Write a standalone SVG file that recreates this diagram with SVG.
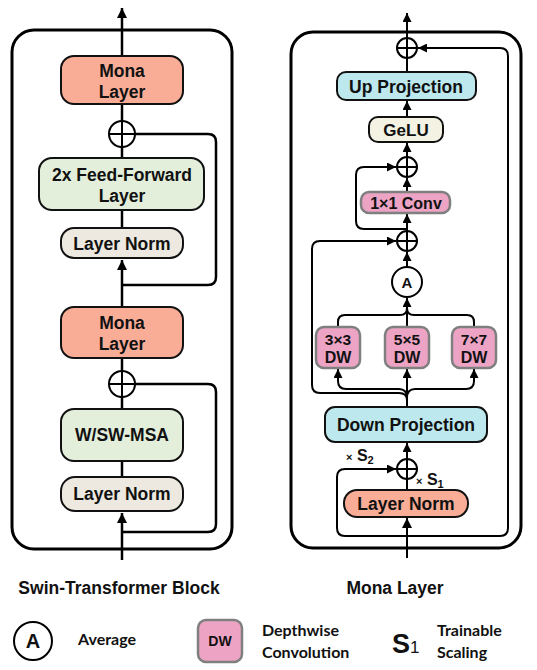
<svg xmlns="http://www.w3.org/2000/svg" width="537" height="670" viewBox="0 0 537 670">
<defs>
<marker id="ah" viewBox="0 0 10 10" refX="10" refY="5" markerWidth="10" markerHeight="10" markerUnits="userSpaceOnUse" orient="auto"><path d="M0,0 L10,5 L0,10 Z" fill="#000"/></marker>
<marker id="ahs" viewBox="0 0 10 10" refX="10" refY="5" markerWidth="9" markerHeight="9" markerUnits="userSpaceOnUse" orient="auto"><path d="M0,0 L10,5 L0,10 Z" fill="#000"/></marker>
</defs>
<style>
text{font-family:"Liberation Sans",Arial,sans-serif;font-weight:bold;fill:#111;text-anchor:middle}
.lg{font-family:Lato,"Open Sans",sans-serif;text-anchor:start;font-size:16px}
.box{stroke:#111;stroke-width:2}
.mona{fill:#f9ad97}
.green{fill:#e3efdb}
.norm{fill:#ede9e0}
.blue{fill:#bde8ee}
.gelu{fill:#f3f2e3}
.pink{fill:#eda4c4;stroke:#7f7f7f;stroke-width:2.5}
.ln{fill:none;stroke:#000;stroke-width:2.5}
.lnr{fill:none;stroke:#000;stroke-width:2}
.outer{fill:none;stroke:#000;stroke-width:3}
.plus{fill:#fff;stroke:#000;stroke-width:2}
</style>

<g id="swin-frame"><rect class="outer" x="12" y="30" width="220" height="519" rx="22"/></g>
<g id="mona-frame"><rect class="outer" x="291" y="32" width="230" height="516" rx="22"/></g>

<g id="connectors">
<!-- left panel -->
<path class="ln" d="M122,560 V513" marker-end="url(#ah)"/>
<path class="ln" d="M122,477 V461"/>
<path class="ln" d="M122,409 V397"/>
<path class="ln" d="M122,371 V358"/>
<path class="ln" d="M122,307 V260" marker-end="url(#ah)"/>
<path class="ln" d="M122,228 V210"/>
<path class="ln" d="M122,158 V147"/>
<path class="ln" d="M122,121 V104"/>
<path class="ln" d="M122,56 V8" marker-end="url(#ah)"/>
<path class="ln" d="M122,532 H208 Q216,532 216,524 V392 Q216,384 208,384 H135"/>
<path class="ln" d="M122,285 H208 Q216,285 216,277 V142 Q216,134 208,134 H135"/>
<!-- right panel -->
<path class="lnr" d="M407,558 V518" marker-end="url(#ah)"/>
<path class="lnr" d="M407,536 H500 Q508,536 508,528 V56 Q508,48 500,48 H418" marker-end="url(#ahs)"/>
<path class="lnr" d="M407,536 H345 Q337,536 337,528 V477 Q337,469 345,469 H396" marker-end="url(#ahs)"/>
<path class="lnr" d="M407,490 V479"/>
<path class="lnr" d="M407,459 V443" marker-end="url(#ahs)"/>
<path class="lnr" d="M407,407 V369" marker-end="url(#ahs)"/>
<path class="lnr" d="M407,398 Q407,389 399,389 H346 Q338,389 338,381 V369" marker-end="url(#ahs)"/>
<path class="lnr" d="M407,398 Q407,389 415,389 H466 Q474,389 474,381 V369" marker-end="url(#ahs)"/>
<path class="lnr" d="M407,400 Q407,393 399,393 H320 Q312,393 312,385 V249 Q312,241 320,241 H396" marker-end="url(#ahs)"/>
<path class="lnr" d="M338,327 V322 Q338,315 345,315 H400 Q407,315 407,308"/>
<path class="lnr" d="M474,327 V322 Q474,315 467,315 H414 Q407,315 407,308"/>
<path class="lnr" d="M407,327 V298" marker-end="url(#ahs)"/>
<path class="lnr" d="M407,267 V252" marker-end="url(#ahs)"/>
<path class="lnr" d="M407,231 V214" marker-end="url(#ahs)"/>
<path class="lnr" d="M407,229 H364 Q356,229 356,221 V175 Q356,167 364,167 H396" marker-end="url(#ahs)"/>
<path class="lnr" d="M407,192 V178" marker-end="url(#ahs)"/>
<path class="lnr" d="M407,157 V143" marker-end="url(#ahs)"/>
<path class="lnr" d="M407,117 V101" marker-end="url(#ahs)"/>
<path class="lnr" d="M407,72 V58"/>
<path class="lnr" d="M407,38 V13" marker-end="url(#ahs)"/>
</g>

<!-- left nodes -->
<g id="mona-top"><rect class="box mona" x="61" y="56" width="122" height="48" rx="13"/><text x="122" y="77" font-size="17.5">Mona</text><text x="122" y="98" font-size="17.5">Layer</text></g>
<g id="add-top"><circle class="plus" cx="122" cy="134" r="13"/><path d="M109,134 H135 M122,121 V147" stroke="#000" stroke-width="2"/></g>
<g id="ffn"><rect class="box green" x="39" y="158" width="165" height="52" rx="13"/><text x="122" y="181" font-size="17.5">2x Feed-Forward</text><text x="122" y="202" font-size="17.5">Layer</text></g>
<g id="norm-top"><rect class="box norm" x="61" y="228" width="122" height="30" rx="13"/><text x="122" y="249.5" font-size="17.5">Layer Norm</text></g>
<g id="mona-bottom"><rect class="box mona" x="61" y="307" width="122" height="51" rx="13"/><text x="122" y="329" font-size="17.5">Mona</text><text x="122" y="350" font-size="17.5">Layer</text></g>
<g id="add-bottom"><circle class="plus" cx="122" cy="384" r="13"/><path d="M109,384 H135 M122,371 V397" stroke="#000" stroke-width="2"/></g>
<g id="msa"><rect class="box green" x="61" y="409" width="122" height="52" rx="13"/><text x="122" y="441" font-size="17.5">W/SW-MSA</text></g>
<g id="norm-bottom"><rect class="box norm" x="61" y="477" width="122" height="34" rx="14"/><text x="122" y="500" font-size="17.5">Layer Norm</text></g>

<!-- right nodes -->
<g id="add-out"><circle class="plus" cx="407" cy="48" r="10"/><path d="M397,48 H417 M407,38 V58" stroke="#000" stroke-width="2"/></g>
<g id="up-proj"><rect class="box blue" x="337" y="72" width="139" height="28" rx="9"/><text x="406" y="92.5" font-size="17.5">Up Projection</text></g>
<g id="gelu"><rect class="box gelu" x="369" y="117" width="74" height="25" rx="9"/><text x="406" y="136" font-size="17">GeLU</text></g>
<g id="add-conv"><circle class="plus" cx="407" cy="167" r="10"/><path d="M397,167 H417 M407,157 V177" stroke="#000" stroke-width="2"/></g>
<g id="conv1x1"><rect class="pink" x="361" y="192" width="89" height="21" rx="8"/><text x="406" y="208.5" font-size="16">1×1 Conv</text></g>
<g id="add-avg"><circle class="plus" cx="407" cy="241" r="10"/><path d="M397,241 H417 M407,231 V251" stroke="#000" stroke-width="2"/></g>
<g id="avg"><circle class="plus" cx="407" cy="282" r="15"/><text x="407" y="287.5" font-size="15">A</text></g>
<g id="dw3"><rect class="pink" x="316" y="327" width="44" height="41" rx="8"/><text x="338" y="345" font-size="15.5">3×3</text><text x="338" y="363" font-size="16">DW</text></g>
<g id="dw5"><rect class="pink" x="385" y="327" width="44" height="41" rx="8"/><text x="407" y="345" font-size="15.5">5×5</text><text x="407" y="363" font-size="16">DW</text></g>
<g id="dw7"><rect class="pink" x="452" y="327" width="44" height="41" rx="8"/><text x="474" y="345" font-size="15.5">7×7</text><text x="474" y="363" font-size="16">DW</text></g>
<g id="down-proj"><rect class="box blue" x="325" y="407" width="162" height="35" rx="10"/><text x="406" y="431" font-size="17.5">Down Projection</text></g>
<g id="add-in"><circle class="plus" cx="407" cy="469" r="10"/><path d="M397,469 H417 M407,459 V479" stroke="#000" stroke-width="2"/></g>
<g id="s2-label"><text x="346" y="461" style="text-anchor:start" font-size="16"><tspan font-size="11">×</tspan> S<tspan font-size="11" dy="3">2</tspan></text></g>
<g id="s1-label"><text x="416" y="485" style="text-anchor:start" font-size="16"><tspan font-size="11">×</tspan> S<tspan font-size="11" dy="3">1</tspan></text></g>
<g id="norm-mona"><rect class="box mona" x="344" y="490" width="124" height="27" rx="13"/><text x="406" y="510" font-size="17.5">Layer Norm</text></g>

<!-- titles -->
<text x="119" y="594" font-size="17.5">Swin-Transformer Block</text>
<text x="395" y="594" font-size="17.5">Mona Layer</text>

<!-- legend -->
<g id="legend-avg"><circle cx="33" cy="641" r="19" fill="#fff" stroke="#000" stroke-width="2"/><text x="33" y="648" font-size="20">A</text><text class="lg" x="78" y="645">Average</text></g>
<g id="legend-dw"><rect class="pink" x="198" y="620" width="44" height="42" rx="8"/><text x="220" y="646" font-size="14">DW</text><text class="lg" x="262" y="636">Depthwise</text><text class="lg" x="262" y="658">Convolution</text></g>
<g id="legend-s"><text x="392" y="653" style="text-anchor:start" font-size="27">S<tspan font-size="17" font-weight="normal">1</tspan></text><text class="lg" x="437" y="636">Trainable</text><text class="lg" x="437" y="658">Scaling</text></g>
</svg>
